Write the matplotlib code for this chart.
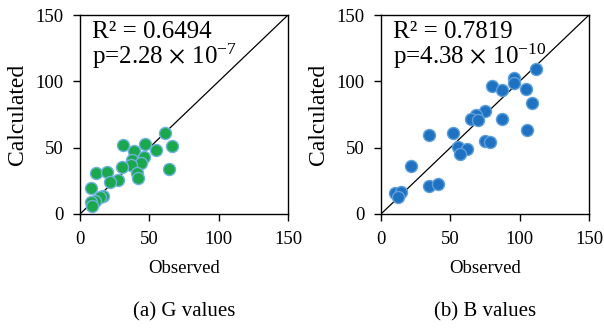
import matplotlib
matplotlib.use('Agg')
import matplotlib.pyplot as plt

plt.rcParams['font.family'] = ['Liberation Serif', 'DejaVu Serif']
plt.rcParams['mathtext.fontset'] = 'stix'

# G values (observed, calculated)
g_obs = [61.2, 31.2, 46.8, 66.5, 38.9, 54.5, 46.1, 37.2, 43.7, 36.5, 30.0, 64.3,
         40.8, 42.0, 11.5, 19.2, 27.6, 21.6, 7.7, 16.8, 14.4, 10.8, 7.7, 8.4]
g_calc = [60.8, 52.0, 52.8, 51.3, 47.7, 48.2, 43.2, 40.7, 38.2, 37.2, 35.7, 34.2,
          30.7, 27.4, 30.7, 31.4, 25.6, 24.4, 19.3, 13.6, 12.6, 9.8, 8.8, 6.3]

# B values (observed, calculated)
b_obs = [111.9, 96.1, 95.9, 80.3, 87.4, 104.4, 109.2, 75.2, 68.2, 65.0, 69.9, 87.4,
         34.7, 52.2, 105.6, 55.3, 61.9, 57.3, 74.8, 78.4, 21.8, 34.7, 41.3, 10.4,
         14.1, 12.4]
b_calc = [109.2, 102.6, 99.1, 96.6, 93.3, 94.0, 83.7, 77.4, 74.4, 71.8, 70.6, 71.8,
          59.7, 61.0, 63.0, 50.4, 48.7, 45.4, 54.7, 54.2, 36.1, 20.9, 22.9, 15.9,
          16.9, 13.1]

ticks = [0, 50, 100, 150]

fig = plt.figure(figsize=(6.04, 3.36), dpi=100)

panels = [
    (80, g_obs, g_calc, '#1aa84c', '#6fb2e0', 'R\u00b2 = 0.6494',
     r'p=2.28$\,\times\,$10$^{\mathregular{-7}}$', '(a) G values'),
    (381, b_obs, b_calc, '#1f72c2', '#5fa0da', 'R\u00b2 = 0.7819',
     r'p=4.38$\,\times\,$10$^{\mathregular{-10}}$', '(b) B values'),
]

for left, xs, ys, fc, ec, r2, pval, cap in panels:
    ax = fig.add_axes([left / 604, (336 - 214) / 336, 208 / 604, 199 / 336])
    ax.plot([0, 150], [0, 150], color='black', lw=0.9, zorder=1)
    ax.scatter(xs, ys, s=75, facecolor=fc, edgecolor=ec, linewidth=1.0, zorder=2)
    ax.set_xlim(0, 150)
    ax.set_ylim(0, 150)
    ax.set_xticks(ticks)
    ax.set_yticks(ticks)
    ax.tick_params(direction='out', length=5, width=1, labelsize=13.5, pad=7)
    for sp in ax.spines.values():
        sp.set_linewidth(1)
    ax.set_xlabel('Observed', fontsize=13.5, labelpad=9)
    ax.set_ylabel('Calculated', fontsize=17, labelpad=5)
    ax.text(0.058, 0.885, r2, transform=ax.transAxes, fontsize=18,
            va='baseline', ha='left')
    ax.text(0.058, 0.755, pval, transform=ax.transAxes, fontsize=18,
            va='baseline', ha='left')
    ax.text(0.5, -0.49, cap, transform=ax.transAxes, fontsize=15,
            va='center', ha='center')

fig.savefig('out.png', dpi=100)
